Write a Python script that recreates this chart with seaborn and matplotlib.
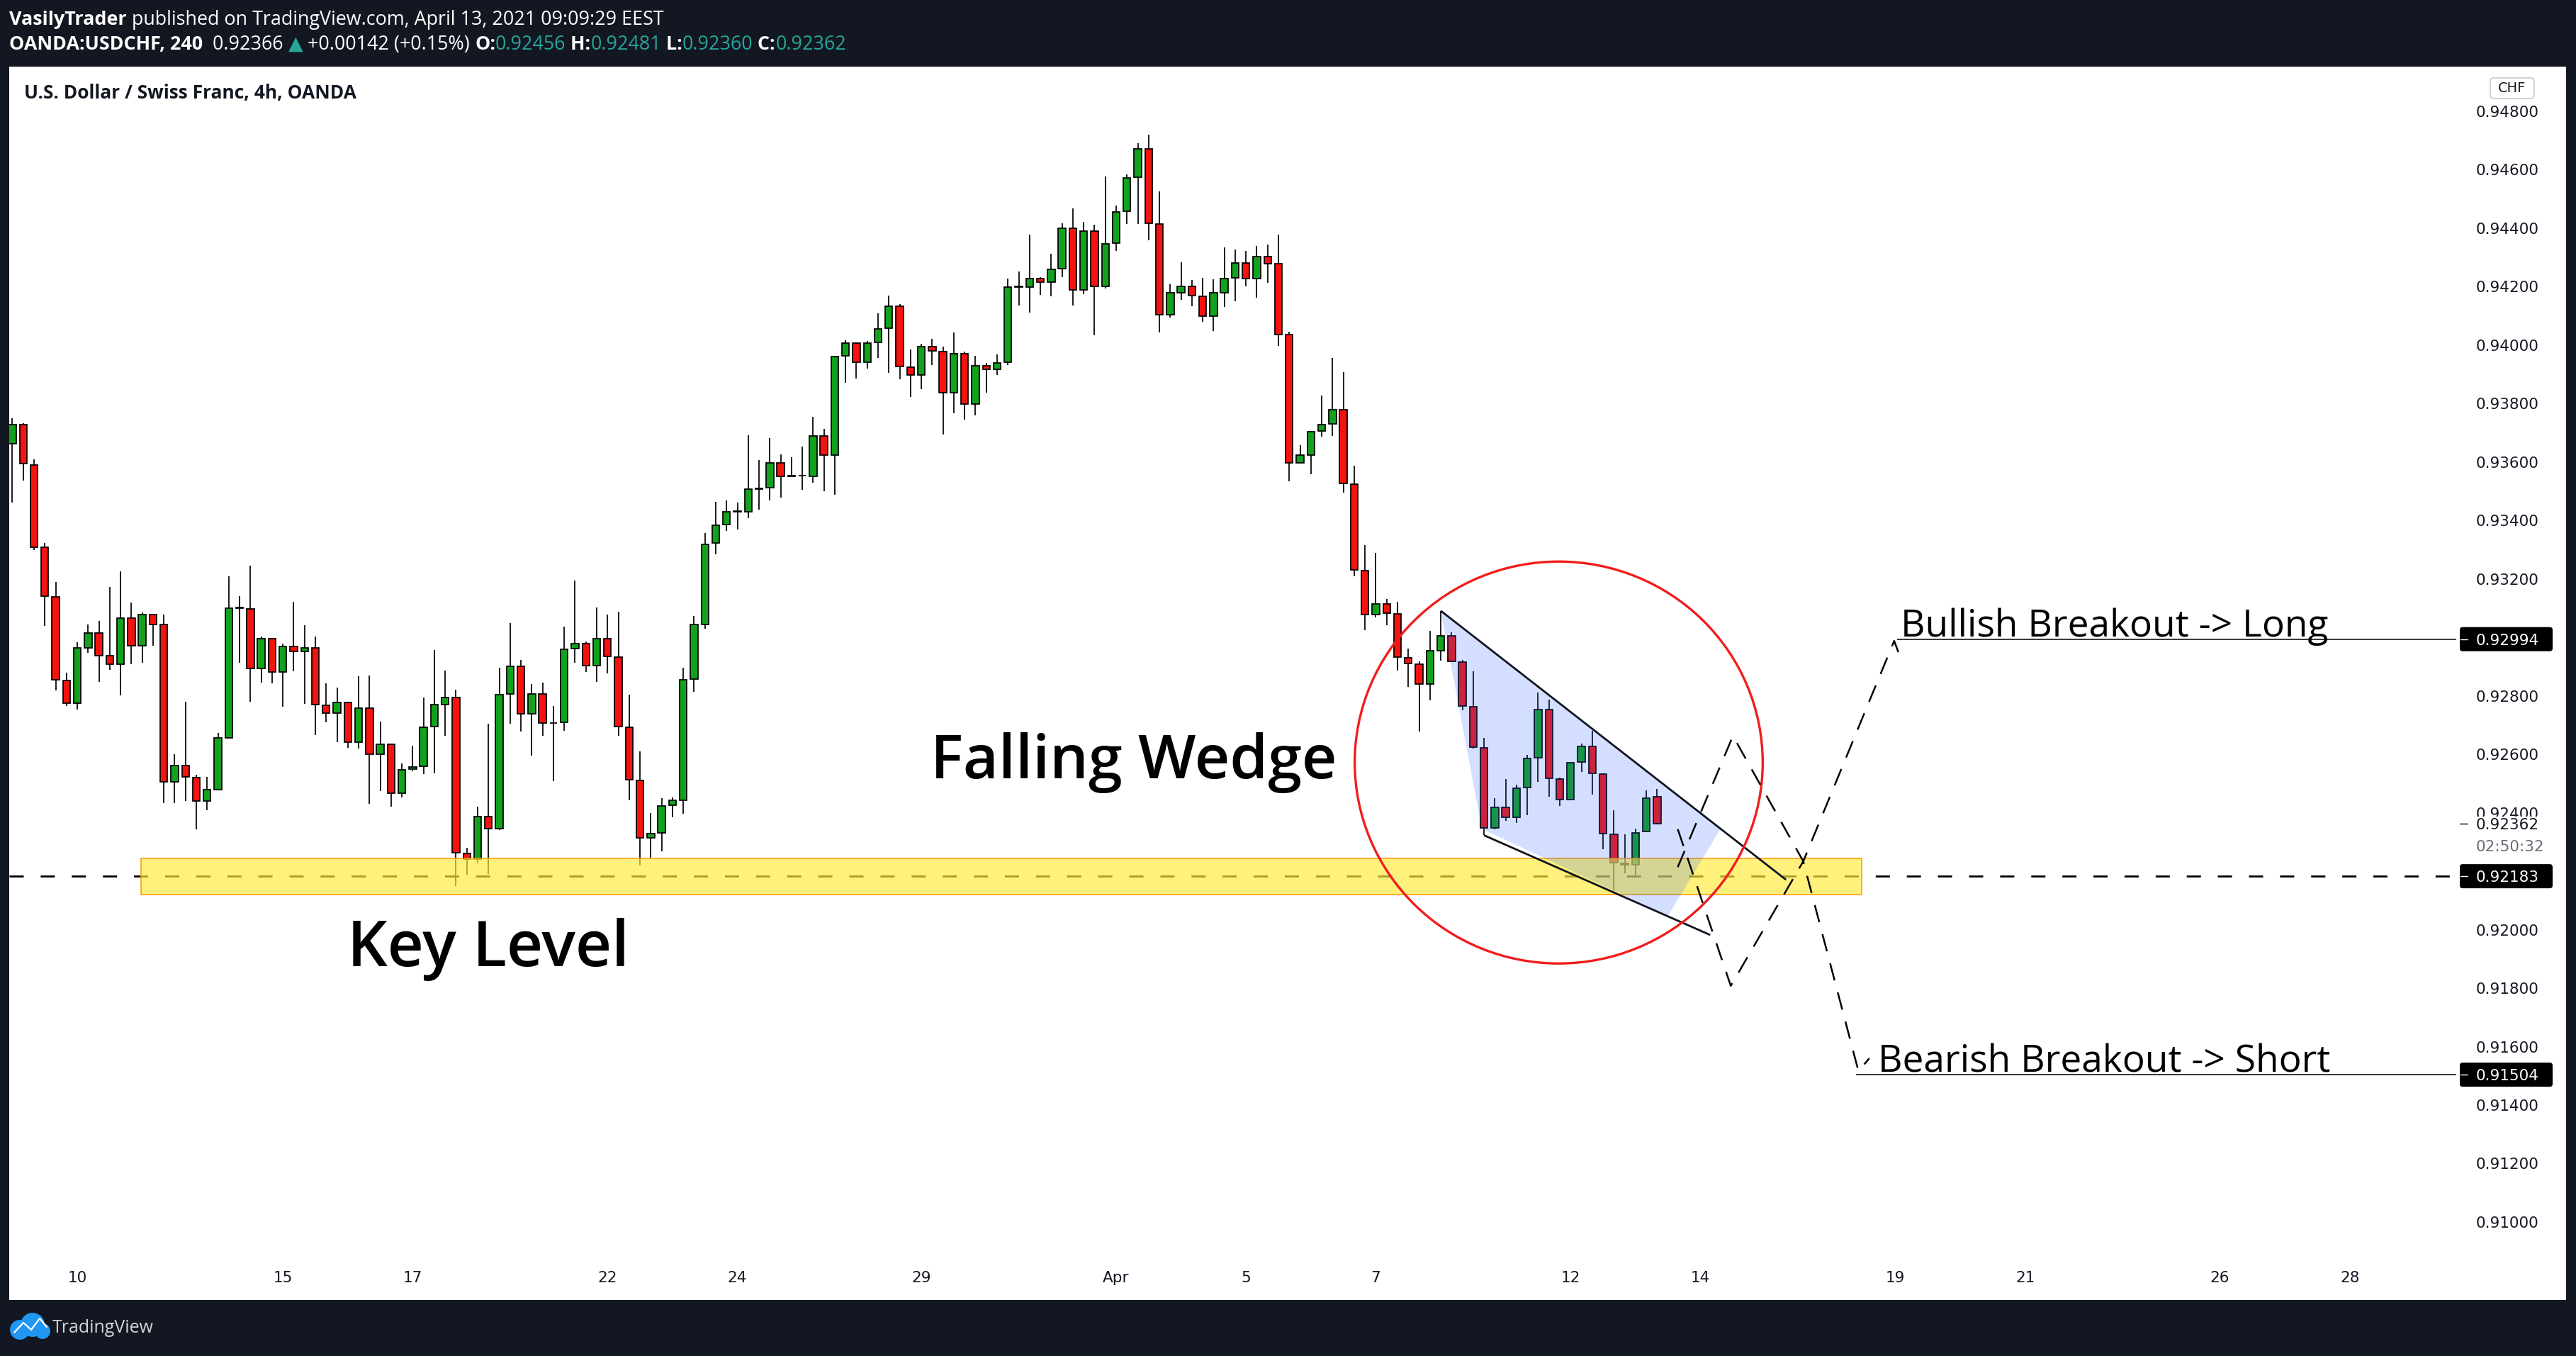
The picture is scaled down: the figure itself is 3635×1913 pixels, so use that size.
import numpy as np
import pandas as pd
import matplotlib
matplotlib.use("Agg")
import matplotlib.pyplot as plt
import seaborn as sns
from matplotlib.patches import Ellipse, Polygon, Rectangle, FancyBboxPatch, Circle
from matplotlib.lines import Line2D
from matplotlib.transforms import IdentityTransform

W, H = 3635, 1913

# 4h USDCHF candles, Mar 9 00:00 -> Apr 13 08:00
opens = [0.93663, 0.93729, 0.93591, 0.93308, 0.93138, 0.92852, 0.92775, 0.92964, 0.93014, 0.92937,
         0.92909, 0.93065, 0.92972, 0.93077, 0.93043, 0.92506, 0.92561, 0.92521, 0.92440, 0.92480,
         0.92657, 0.93101, 0.93098, 0.92893, 0.92995, 0.92882, 0.92968, 0.92951, 0.92964, 0.92767,
         0.92740, 0.92777, 0.92641, 0.92758, 0.92601, 0.92634, 0.92466, 0.92549, 0.92558, 0.92695,
         0.92771, 0.92795, 0.92260, 0.92242, 0.92387, 0.92345, 0.92807, 0.92901, 0.92739, 0.92807,
         0.92706, 0.92710, 0.92962, 0.92978, 0.92903, 0.92996, 0.92932, 0.92692, 0.92511, 0.92314,
         0.92331, 0.92425, 0.92444, 0.92858, 0.93043, 0.93322, 0.93386, 0.93430, 0.93430, 0.93507,
         0.93512, 0.93596, 0.93551, 0.93553, 0.93551, 0.93689, 0.93624, 0.93964, 0.94007, 0.93942,
         0.94010, 0.94057, 0.94132, 0.93925, 0.93899, 0.93995, 0.93977, 0.93836, 0.93971, 0.93798,
         0.93929, 0.93917, 0.93941, 0.94199, 0.94199, 0.94227, 0.94215, 0.94261, 0.94401, 0.94189,
         0.94389, 0.94200, 0.94349, 0.94458, 0.94574, 0.94672, 0.94415, 0.94104, 0.94179, 0.94202,
         0.94168, 0.94098, 0.94179, 0.94229, 0.94282, 0.94227, 0.94304, 0.94278, 0.94036, 0.93598,
         0.93623, 0.93706, 0.93730, 0.93780, 0.93525, 0.93229, 0.93079, 0.93115, 0.93081, 0.92931,
         0.92909, 0.92841, 0.92955, 0.93006, 0.92916, 0.92764, 0.92622, 0.92349, 0.92419, 0.92384,
         0.92486, 0.92588, 0.92753, 0.92516, 0.92446, 0.92574, 0.92628, 0.92533, 0.92327, 0.92228,
         0.92222, 0.92335, 0.92456]
highs = [0.93750, 0.93732, 0.93610, 0.93322, 0.93189, 0.92880, 0.92984, 0.93045, 0.93057, 0.93173,
         0.93227, 0.93120, 0.93086, 0.93080, 0.93078, 0.92601, 0.92781, 0.92529, 0.92523, 0.92674,
         0.93209, 0.93141, 0.93246, 0.93002, 0.92998, 0.92979, 0.93122, 0.93042, 0.93004, 0.92844,
         0.92829, 0.92780, 0.92867, 0.92869, 0.92712, 0.92637, 0.92570, 0.92629, 0.92795, 0.92956,
         0.92887, 0.92820, 0.92280, 0.92420, 0.92704, 0.92897, 0.93048, 0.92923, 0.92840, 0.92845,
         0.92766, 0.93037, 0.93194, 0.92987, 0.93102, 0.93078, 0.93089, 0.92804, 0.92610, 0.92398,
         0.92450, 0.92452, 0.92897, 0.93073, 0.93357, 0.93464, 0.93469, 0.93462, 0.93692, 0.93606,
         0.93682, 0.93627, 0.93616, 0.93653, 0.93754, 0.93713, 0.93963, 0.94017, 0.94010, 0.94015,
         0.94110, 0.94170, 0.94141, 0.93986, 0.94004, 0.94022, 0.93995, 0.94043, 0.93977, 0.93964,
         0.93939, 0.93967, 0.94228, 0.94253, 0.94379, 0.94233, 0.94312, 0.94417, 0.94468, 0.94421,
         0.94411, 0.94578, 0.94477, 0.94583, 0.94691, 0.94720, 0.94526, 0.94208, 0.94283, 0.94223,
         0.94230, 0.94225, 0.94334, 0.94326, 0.94321, 0.94340, 0.94345, 0.94377, 0.94045, 0.93657,
         0.93706, 0.93827, 0.93956, 0.93907, 0.93587, 0.93317, 0.93290, 0.93132, 0.93121, 0.92962,
         0.92917, 0.93022, 0.93091, 0.93017, 0.92923, 0.92883, 0.92655, 0.92450, 0.92515, 0.92497,
         0.92598, 0.92812, 0.92786, 0.92520, 0.92573, 0.92638, 0.92680, 0.92535, 0.92408, 0.92327,
         0.92347, 0.92477, 0.92481]
lows = [0.93462, 0.93537, 0.93298, 0.93039, 0.92818, 0.92765, 0.92753, 0.92946, 0.92847, 0.92889,
        0.92802, 0.92908, 0.92914, 0.92972, 0.92434, 0.92434, 0.92441, 0.92343, 0.92409, 0.92478,
        0.92655, 0.92913, 0.92780, 0.92845, 0.92842, 0.92762, 0.92883, 0.92772, 0.92665, 0.92710,
        0.92642, 0.92623, 0.92621, 0.92431, 0.92475, 0.92420, 0.92453, 0.92542, 0.92533, 0.92536,
        0.92664, 0.92150, 0.92187, 0.92226, 0.92190, 0.92340, 0.92704, 0.92677, 0.92596, 0.92664,
        0.92509, 0.92681, 0.92913, 0.92881, 0.92847, 0.92876, 0.92664, 0.92442, 0.92220, 0.92246,
        0.92268, 0.92385, 0.92396, 0.92813, 0.93029, 0.93285, 0.93365, 0.93369, 0.93407, 0.93438,
        0.93468, 0.93479, 0.93549, 0.93506, 0.93528, 0.93499, 0.93489, 0.93870, 0.93885, 0.93919,
        0.93955, 0.93905, 0.93883, 0.93822, 0.93850, 0.93932, 0.93694, 0.93768, 0.93744, 0.93759,
        0.93838, 0.93899, 0.93932, 0.94136, 0.94111, 0.94173, 0.94166, 0.94233, 0.94136, 0.94174,
        0.94034, 0.94194, 0.94323, 0.94415, 0.94415, 0.94359, 0.94043, 0.94095, 0.94156, 0.94134,
        0.94079, 0.94047, 0.94131, 0.94151, 0.94202, 0.94162, 0.94213, 0.93998, 0.93535, 0.93596,
        0.93558, 0.93686, 0.93690, 0.93496, 0.93208, 0.93024, 0.93068, 0.93041, 0.92886, 0.92830,
        0.92679, 0.92784, 0.92920, 0.92915, 0.92750, 0.92621, 0.92323, 0.92343, 0.92372, 0.92364,
        0.92392, 0.92507, 0.92454, 0.92424, 0.92444, 0.92539, 0.92461, 0.92275, 0.92133, 0.92194,
        0.92182, 0.92333, 0.92360]
closes = [0.93729, 0.93594, 0.93309, 0.93140, 0.92854, 0.92775, 0.92964, 0.93014, 0.92937, 0.92909,
          0.93065, 0.92972, 0.93077, 0.93043, 0.92506, 0.92561, 0.92523, 0.92440, 0.92479, 0.92655,
          0.93101, 0.93102, 0.92893, 0.92995, 0.92882, 0.92968, 0.92951, 0.92964, 0.92769, 0.92740,
          0.92777, 0.92642, 0.92758, 0.92601, 0.92634, 0.92466, 0.92547, 0.92557, 0.92692, 0.92769,
          0.92795, 0.92263, 0.92242, 0.92387, 0.92345, 0.92804, 0.92901, 0.92739, 0.92807, 0.92706,
          0.92708, 0.92959, 0.92978, 0.92903, 0.92996, 0.92935, 0.92696, 0.92513, 0.92314, 0.92329,
          0.92423, 0.92442, 0.92856, 0.93043, 0.93318, 0.93384, 0.93430, 0.93432, 0.93507, 0.93510,
          0.93596, 0.93551, 0.93553, 0.93553, 0.93689, 0.93624, 0.93961, 0.94007, 0.93942, 0.94007,
          0.94055, 0.94132, 0.93926, 0.93899, 0.93995, 0.93980, 0.93836, 0.93971, 0.93798, 0.93929,
          0.93917, 0.93939, 0.94199, 0.94200, 0.94227, 0.94215, 0.94260, 0.94401, 0.94189, 0.94389,
          0.94200, 0.94347, 0.94456, 0.94573, 0.94672, 0.94417, 0.94104, 0.94178, 0.94202, 0.94170,
          0.94098, 0.94178, 0.94228, 0.94282, 0.94227, 0.94304, 0.94278, 0.94036, 0.93598, 0.93623,
          0.93704, 0.93729, 0.93780, 0.93526, 0.93230, 0.93079, 0.93115, 0.93083, 0.92933, 0.92911,
          0.92841, 0.92954, 0.93006, 0.92919, 0.92766, 0.92625, 0.92349, 0.92419, 0.92384, 0.92484,
          0.92586, 0.92753, 0.92517, 0.92446, 0.92571, 0.92628, 0.92536, 0.92330, 0.92230, 0.92222,
          0.92331, 0.92451, 0.92362]

# time axis: day labels and the candle slot each one sits on
day_labels = ["10", "15", "17", "22", "24", "29", "Apr", "5", "7", "12", "14", "19", "21", "26", "28"]
day_candle = [6, 25, 37, 55, 67, 84, 102, 114, 126, 144, 156, 174, 186, 204, 216]

price_ticks = [0.910, 0.912, 0.914, 0.916, 0.918, 0.920, 0.922, 0.924, 0.926, 0.928,
               0.930, 0.932, 0.934, 0.936, 0.938, 0.940, 0.942, 0.944, 0.946, 0.948]

# drawings
key_level = 0.92183
band_x = [11.9, 170.9]
band_y = [0.92121, 0.92245]
bull_target = 0.92994
bear_target = 0.91504
last_price = 0.92362

wedge_upper_x = [132.0, 163.9]
wedge_upper_y = [0.93091, 0.92171]
wedge_lower_x = [136.0, 156.9]
wedge_lower_y = [0.92323, 0.91982]
wedge_fill_x = [132.0, 135.8, 153.0, 157.9]
wedge_fill_y = [0.93091, 0.92345, 0.92047, 0.92348]

bull_path_x = [153.9, 158.8, 165.5, 173.9, 174.6]
bull_path_y = [0.92344, 0.91808, 0.92234, 0.92988, 0.92918]
bear_path_x = [153.9, 159.0, 165.5, 170.6, 171.6]
bear_path_y = [0.92214, 0.92663, 0.92234, 0.91516, 0.91560]

circle_xy = (142.9, 0.92572)
circle_size = (37.7, 0.01375)

header_line1 = [("VasilyTrader", "white", "bold"),
                (" published on TradingView.com, April 13, 2021 09:09:29 EEST", "white", "normal")]
teal = "#26a69a"
header_line2 = [("OANDA:USDCHF, 240", "white", "bold"), ("  0.92366 ", "white", "normal"),
                ("\u25b2", teal, "normal"), (" +0.00142 (+0.15%) ", "white", "normal"),
                ("O:", "white", "bold"), ("0.92456", teal, "normal"),
                (" H:", "white", "bold"), ("0.92481", teal, "normal"),
                (" L:", "white", "bold"), ("0.92360", teal, "normal"),
                (" C:", "white", "bold"), ("0.92362", teal, "normal")]

sns.set_theme(style="white")
plt.rcParams["font.family"] = ["DejaVu Sans"]
ui_font = ["Open Sans", "DejaVu Sans"]

fig = plt.figure(figsize=(W / 100, H / 100), dpi=100, facecolor="#131722")
fig.add_artist(Rectangle((13 / W, 1 - 1834 / H), (3621 - 13) / W, (1834 - 94) / H,
                         transform=fig.transFigure, facecolor="white", edgecolor="none", zorder=-5))

ax = fig.add_axes([13 / W, 1 - 1768 / H, (3466 - 13) / W, (1768 - 94) / H])
ax.set_facecolor("none")
for s in ax.spines.values():
    s.set_visible(False)

df = pd.DataFrame({"open": opens, "high": highs, "low": lows, "close": closes})
df["idx"] = np.arange(len(df))
up = df["close"] >= df["open"]
colors = np.where(up, "#14a11e", "#f5130f")
bottoms = df[["open", "close"]].min(axis=1)
heights = (df["close"] - df["open"]).abs().clip(lower=0.000012)

ax.vlines(df["idx"], df["low"], df["high"], color="black", lw=1.25, zorder=2)
ax.bar(df["idx"], heights, bottom=bottoms, width=0.68, color=colors,
       edgecolor="black", linewidth=1.25, zorder=2.1)

# key level: dashed line + yellow zone on top of it
ax.axhline(key_level, color="black", lw=2.0, dashes=(7.2, 8.6), zorder=2.5)
ax.add_patch(Rectangle((band_x[0], band_y[0]), band_x[1] - band_x[0], band_y[1] - band_y[0],
                       facecolor=(1.0, 0.92, 0.23, 0.67), edgecolor="#ff9800", lw=1.1, zorder=3))

# falling wedge
ax.add_patch(Polygon(np.column_stack([wedge_fill_x, wedge_fill_y]),
                     facecolor=(41 / 255, 98 / 255, 1.0, 0.2), edgecolor="none", zorder=4))
ax.plot(wedge_upper_x, wedge_upper_y, color="#10141f", lw=2.0, zorder=5, solid_capstyle="butt")
ax.plot(wedge_lower_x, wedge_lower_y, color="#10141f", lw=2.0, zorder=5, solid_capstyle="butt")
ax.add_patch(Ellipse(circle_xy, circle_size[0], circle_size[1], fill=False,
                     edgecolor="#f21c1c", lw=2.4, zorder=6))

# breakout scenarios
sns.lineplot(x=bull_path_x, y=bull_path_y, sort=False, estimator=None, ax=ax, color="black",
             lw=1.8, linestyle=(0, (10, 7)), zorder=6)
sns.lineplot(x=bear_path_x, y=bear_path_y, sort=False, estimator=None, ax=ax, color="black",
             lw=1.8, linestyle=(0, (10, 7)), zorder=6)

xmax = 225.84
ax.hlines(bull_target, 174.2, xmax, color="black", lw=1.1, zorder=5)
ax.hlines(bear_target, 170.4, xmax, color="black", lw=1.1, zorder=5)

ax.text(103.6, 0.92572, "Falling Wedge", ha="center", va="center", fontsize=62,
        fontweight="semibold", family=ui_font, color="black", zorder=8)
ax.text(43.96, 0.91932, "Key Level", ha="center", va="center", fontsize=64,
        fontweight="semibold", family=ui_font, color="black", zorder=8)
ax.text(174.5, bull_target + 0.00008, "Bullish Breakout -> Long", ha="left", va="baseline",
        fontsize=38.3, family=ui_font, color="black", zorder=8)
ax.text(172.4, bear_target + 0.00008, "Bearish Breakout -> Short", ha="left", va="baseline",
        fontsize=38.3, family=ui_font, color="black", zorder=8)

ax.set_xlim(-0.29, xmax)
ax.set_ylim(0.908932, 0.949527)
ax.set_xlabel("")
ax.set_ylabel("")
ax.grid(False)

ax.set_xticks(day_candle)
ax.set_xticklabels(day_labels)
ax.yaxis.tick_right()
ax.set_yticks(price_ticks)
ax.set_yticklabels([f"{p:.5f}" for p in price_ticks])
ax.tick_params(axis="y", length=0, pad=20, labelsize=15.5, labelcolor="#131722")
ax.tick_params(axis="x", length=0, pad=18, labelsize=15.5, labelcolor="#131722")

fig.canvas.draw()
renderer = fig.canvas.get_renderer()


def price_y(p):
    return ax.transData.transform((0, p))[1]


def price_box(p, text, fc="black", tc="white"):
    yd = price_y(p)
    fig.add_artist(FancyBboxPatch((3471, yd - 17), 131, 34, boxstyle="round,pad=0,rounding_size=4",
                                  transform=IdentityTransform(), facecolor=fc, edgecolor="none", zorder=10))
    fig.add_artist(Line2D([3472, 3482], [yd, yd], transform=IdentityTransform(), color=tc, lw=1, zorder=11))
    fig.text(3494 / W, yd / H, text, color=tc, fontsize=15.5, va="center_baseline", ha="left", zorder=11)


price_box(bull_target, f"{bull_target:.5f}")
price_box(key_level, f"{key_level:.5f}")
price_box(bear_target, f"{bear_target:.5f}")

# live price label over the axis
yd = price_y(last_price)
fig.add_artist(Rectangle((3468, yd - 46), 150, 56, transform=IdentityTransform(),
                         facecolor="white", edgecolor="none", zorder=10))
fig.add_artist(Line2D([3471, 3482], [yd, yd], transform=IdentityTransform(), color="black", lw=1, zorder=11))
fig.text(3494 / W, yd / H, f"{last_price:.5f}", color="#131722", fontsize=15.5,
         va="center_baseline", ha="left", zorder=11)
fig.text(3494 / W, (yd - 31) / H, "02:50:32", color="#6a6d78", fontsize=15.5,
         va="center_baseline", ha="left", zorder=11)

# currency badge
fig.add_artist(FancyBboxPatch((3514, H - 139), 62, 29, boxstyle="round,pad=0,rounding_size=5",
                              transform=IdentityTransform(), facecolor="white", edgecolor="#c8cad0",
                              lw=1.2, zorder=10))
fig.text(3545 / W, 1 - 124.5 / H, "CHF", color="#131722", fontsize=14, ha="center",
         va="center", zorder=11)


def draw_runs(x_px, y_px, runs, size):
    x = x_px
    for txt, color, weight in runs:
        t = fig.text(x / W, 1 - y_px / H, txt, color=color, fontsize=size, fontweight=weight,
                     family=ui_font, va="center", ha="left")
        x += t.get_window_extent(renderer=renderer).width


draw_runs(13, 28, header_line1, 19.4)
draw_runs(13, 63, header_line2, 19.4)

fig.text(34 / W, 1 - 132 / H, "U.S. Dollar / Swiss Franc, 4h, OANDA", color="#131722",
         fontsize=19, fontweight="bold", family=ui_font, va="center", ha="left")

# footer logo
for cx, cy, r in [(28, 1876, 14), (46, 1869, 17), (60, 1878, 11)]:
    fig.add_artist(Circle((cx, H - cy), r, transform=IdentityTransform(), facecolor="#2196f3",
                          edgecolor="none", zorder=10))
fig.add_artist(Line2D([20, 33, 44, 56, 66], [H - 1880, H - 1866, H - 1876, H - 1860, H - 1872],
                      transform=IdentityTransform(), color="white", lw=1.6, zorder=11))
fig.text(74 / W, 1 - 1873 / H, "TradingView", color="#d1d4dc", fontsize=18, family=ui_font,
         va="center", ha="left")

fig.savefig("out.png", dpi=100, facecolor=fig.get_facecolor())
